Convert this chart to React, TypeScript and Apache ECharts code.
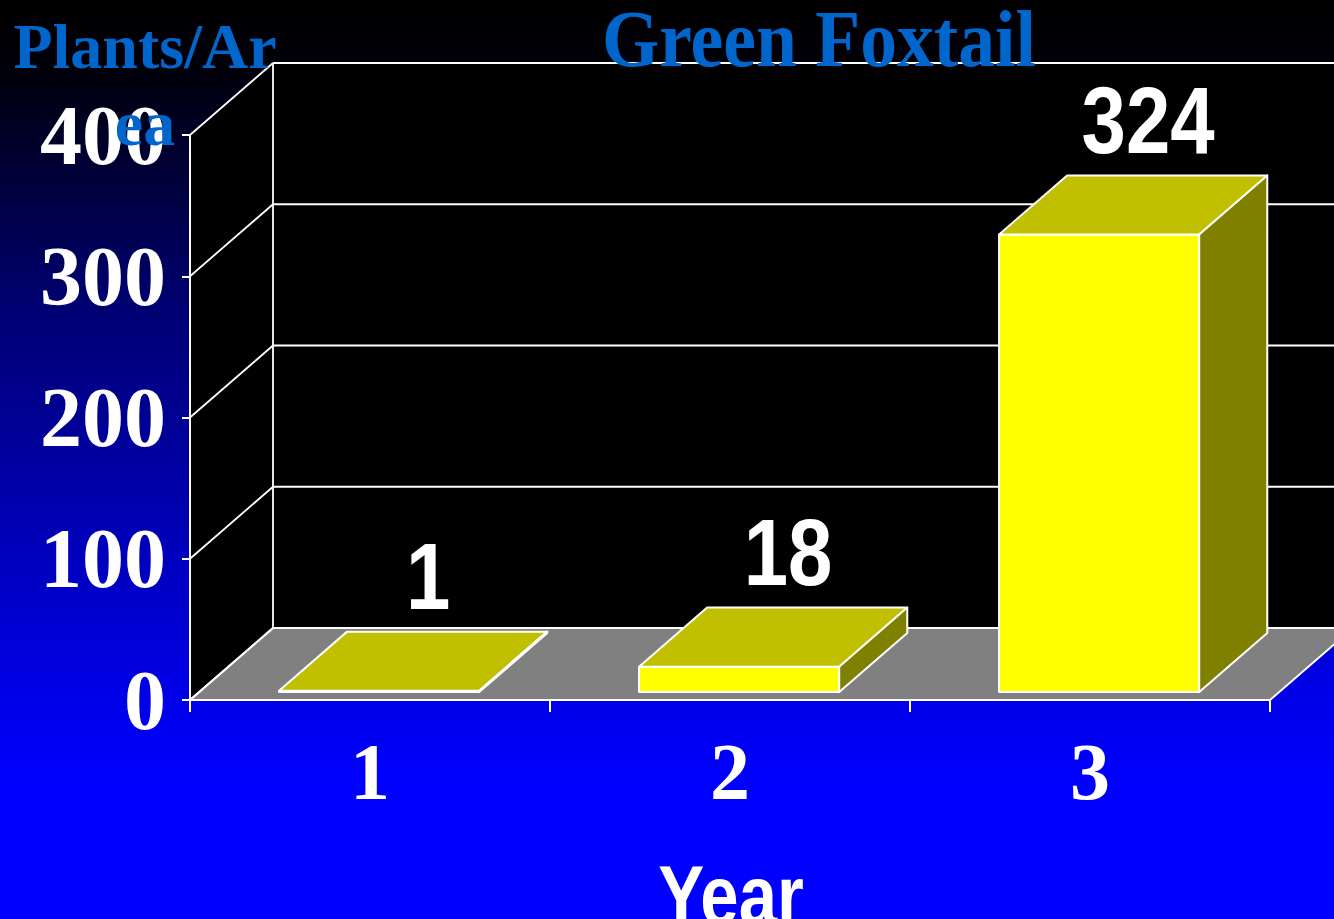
import React, { useEffect, useRef } from "react";
import * as echarts from "echarts";

const categories = ["1", "2", "3"];
const values = [1, 18, 324];
const yTicks = [0, 100, 200, 300, 400];
const titleText = "Green Foxtail";
const yNameLines = ["Plants/Ar", "ea"];
const xName = "Year";

const DX = 83;
const DY = -72;
const F0 = 0.11;
const F1 = 0.93;
const BAR_FRAC = 0.556;

export default function App() {
  const ref = useRef<HTMLDivElement>(null);
  useEffect(() => {
    if (!ref.current) return;
    const chart = echarts.init(ref.current, null, { renderer: "svg" });

    const renderWalls = (params: any, api: any) => {
      const cs = params.coordSys;
      const gx = cs.x, gy = cs.y, gw = cs.width, gh = cs.height;
      const white = { stroke: "#ffffff", lineWidth: 1.8 };
      const children: any[] = [
        {
          type: "polygon",
          shape: { points: [[gx, gy], [gx + DX, gy + DY], [gx + DX, gy + gh + DY], [gx, gy + gh]] },
          style: { fill: "#000000" },
        },
        {
          type: "rect",
          shape: { x: gx + DX, y: gy + DY, width: gw + 200, height: gh },
          style: { fill: "#000000" },
        },
        {
          type: "polygon",
          shape: {
            points: [[gx, gy + gh], [gx + gw, gy + gh], [gx + gw + DX, gy + gh + DY], [gx + DX, gy + gh + DY]],
          },
          style: { fill: "#808080", stroke: "#ffffff", lineWidth: 2 },
        },
      ];
      yTicks.forEach((t) => {
        const y = api.coord([0, t])[1];
        children.push({
          type: "line",
          shape: { x1: gx + DX, y1: y + DY, x2: gx + gw + DX + 200, y2: y + DY },
          style: white,
        });
        children.push({
          type: "line",
          shape: { x1: gx, y1: y, x2: gx + DX, y2: y + DY },
          style: white,
        });
      });
      children.push({
        type: "line",
        shape: { x1: gx + DX, y1: gy + DY, x2: gx + DX, y2: gy + gh + DY },
        style: white,
      });
      return { type: "group", children };
    };

    const renderBar = (params: any, api: any) => {
      const idx = api.value(0);
      const val = api.value(1);
      const c = api.coord([idx, 0]);
      const t = api.coord([idx, val]);
      const bw = api.size([1, 0])[0];
      const w = bw * BAR_FRAC;
      const x0 = c[0] - w / 2 + F0 * DX;
      const x1 = x0 + w;
      const yb = c[1] + F0 * DY;
      const yt = t[1] + F0 * DY;
      const dx = (F1 - F0) * DX;
      const dy = (F1 - F0) * DY;
      const edge = { stroke: "#ffffff", lineWidth: 2, lineJoin: "round" };
      return {
        type: "group",
        children: [
          {
            type: "polygon",
            shape: { points: [[x0, yb], [x1, yb], [x1, yt], [x0, yt]] },
            style: { fill: "#ffff00", ...edge },
          },
          {
            type: "polygon",
            shape: { points: [[x0, yt], [x1, yt], [x1 + dx, yt + dy], [x0 + dx, yt + dy]] },
            style: { fill: "#c0c000", ...edge },
          },
          {
            type: "polygon",
            shape: { points: [[x1, yb], [x1, yt], [x1 + dx, yt + dy], [x1 + dx, yb + dy]] },
            style: { fill: "#808000", ...edge },
          },
          {
            type: "text",
            x: c[0] + 0.7 * DX,
            y: t[1] + DY - 50,
            scaleX: 0.84,
            style: {
              text: String(val),
              fill: "#ffffff",
              font: "bold 95px 'Liberation Sans', Arial, sans-serif",
              align: "center",
              verticalAlign: "middle",
            },
          },
        ],
      };
    };

    const option: any = {
      animation: false,
      backgroundColor: new echarts.graphic.LinearGradient(0, 0, 0, 1, [
        { offset: 0, color: "#000000" },
        { offset: 0.07, color: "#000008" },
        { offset: 0.25, color: "#000050" },
        { offset: 0.33, color: "#000070" },
        { offset: 0.75, color: "#0000e6" },
        { offset: 0.85, color: "#0000ff" },
        { offset: 1, color: "#0000ff" },
      ]),
      grid: { left: 190, right: 64, top: 135, bottom: 219, containLabel: false },
      xAxis: {
        type: "category",
        data: categories,
        z: 10,
        axisLine: { lineStyle: { color: "#ffffff", width: 2 } },
        axisTick: { show: true, length: 12, lineStyle: { color: "#ffffff", width: 2 } },
        axisLabel: {
          color: "#ffffff",
          fontFamily: "'Liberation Serif', 'Times New Roman', serif",
          fontWeight: "bold",
          fontSize: 80,
          margin: 32,
        },
        splitLine: { show: false },
      },
      yAxis: {
        type: "value",
        min: 0,
        max: 400,
        interval: 100,
        z: 10,
        axisLine: { show: true, lineStyle: { color: "#ffffff", width: 2 } },
        axisTick: { show: true, length: 8, lineStyle: { color: "#ffffff", width: 2 } },
        axisLabel: {
          color: "#ffffff",
          fontFamily: "'Liberation Serif', 'Times New Roman', serif",
          fontWeight: "bold",
          fontSize: 84,
          margin: 24,
          formatter: (v: number) => String(yTicks[yTicks.indexOf(v)] ?? v),
        },
        splitLine: { show: false },
      },
      graphic: [
        {
          type: "text",
          x: 819,
          y: 39,
          scaleX: 0.92,
          z: 20,
          style: {
            text: titleText,
            fill: "#0066cc",
            font: "bold 80px 'Liberation Serif', 'Times New Roman', serif",
            align: "center",
            verticalAlign: "middle",
          },
        },
        {
          type: "text",
          x: 145,
          y: 46,
          z: 20,
          style: {
            text: yNameLines[0],
            fill: "#0066cc",
            font: "bold 64px 'Liberation Serif', 'Times New Roman', serif",
            align: "center",
            verticalAlign: "middle",
          },
        },
        {
          type: "text",
          x: 145,
          y: 123,
          z: 20,
          style: {
            text: yNameLines[1],
            fill: "#0066cc",
            font: "bold 64px 'Liberation Serif', 'Times New Roman', serif",
            align: "center",
            verticalAlign: "middle",
          },
        },
        {
          type: "text",
          x: 731,
          y: 895,
          scaleX: 0.83,
          z: 20,
          style: {
            text: xName,
            fill: "#ffffff",
            font: "bold 83px 'Liberation Sans', Arial, sans-serif",
            align: "center",
            verticalAlign: "middle",
          },
        },
      ],
      series: [
        {
          type: "custom",
          z: 1,
          clip: false,
          silent: true,
          data: [[0, 0]],
          renderItem: renderWalls,
        },
        {
          type: "custom",
          z: 3,
          clip: false,
          data: values.map((v, i) => [i, v]),
          renderItem: renderBar,
        },
      ],
    };
    chart.setOption(option);
    return () => chart.dispose();
  }, []);

  return (
    <div
      ref={ref}
      style={{ position: "fixed", left: 0, top: 0, width: 1334, height: 919 }}
    />
  );
}
